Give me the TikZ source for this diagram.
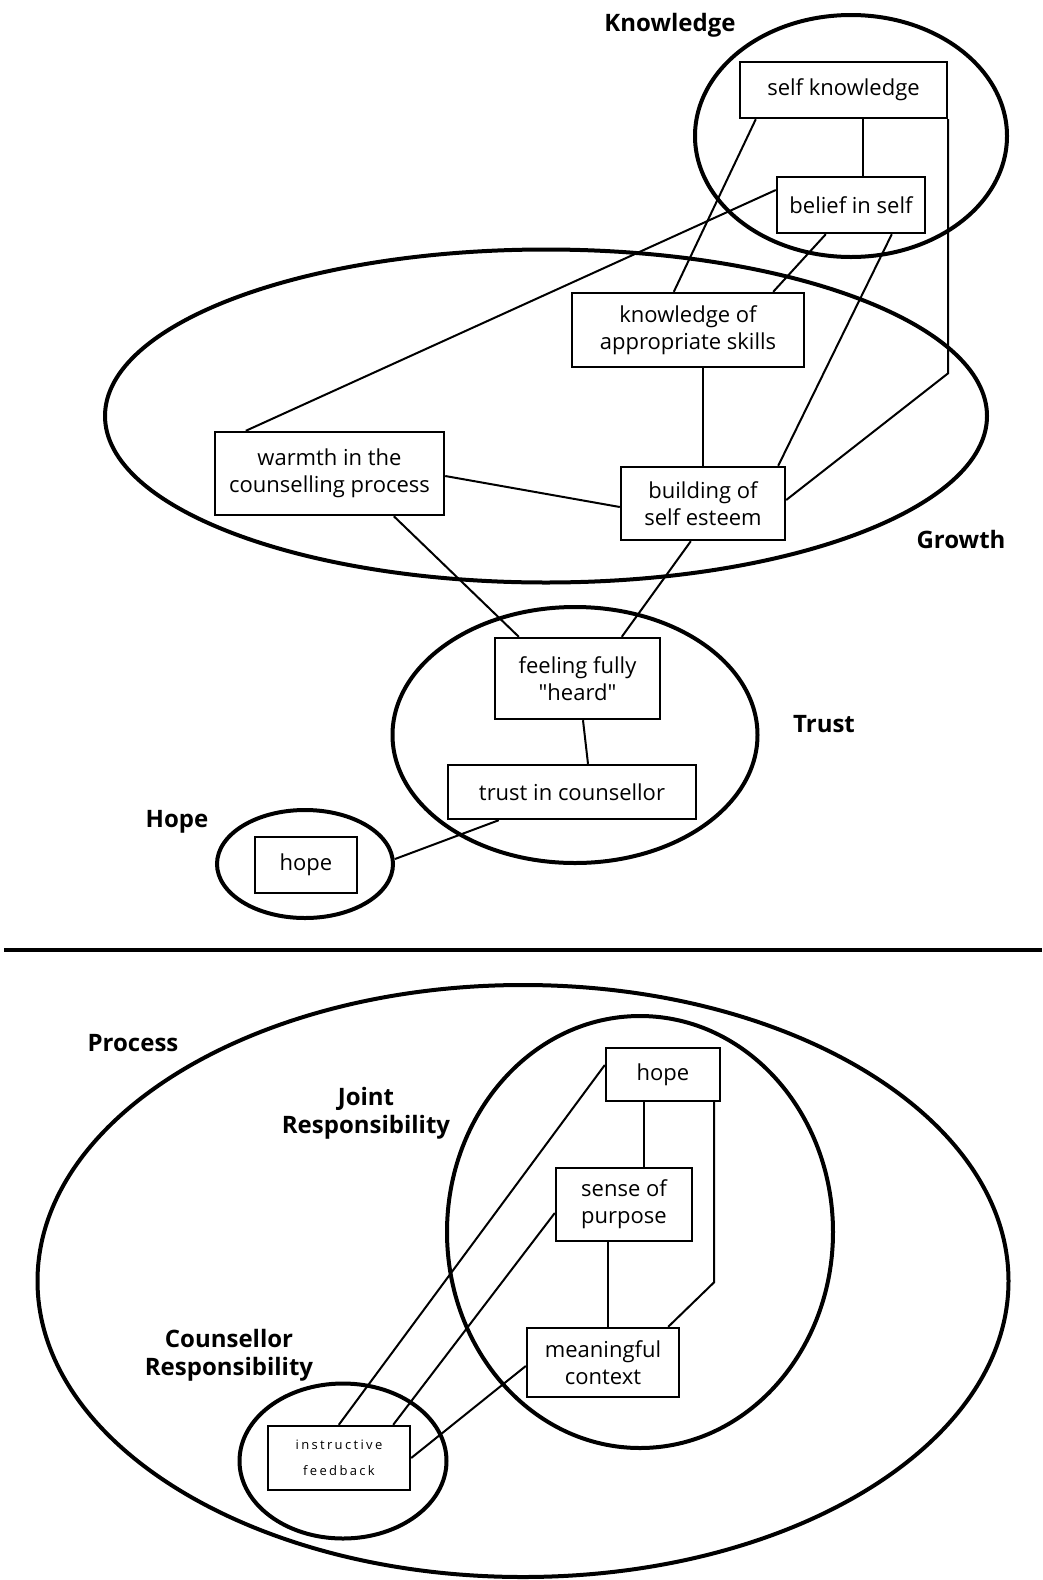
\documentclass[tikz,border=0pt]{standalone}
\usepackage{fontspec}
\setmainfont{Open Sans}[Ligatures=TeXOff]
\usetikzlibrary{shapes.geometric}
\begin{document}
\begin{tikzpicture}[x=1pt,y=-1pt,
  box/.style={draw, fill=white, line width=2.4pt, inner sep=0pt, align=center, font=\fontsize{22}{27}\selectfont},
  ell/.style={draw, ellipse, line width=4pt, inner sep=0pt},
  lbl/.style={font=\fontsize{24}{28}\selectfont\bfseries, align=center, inner sep=0pt},
  con/.style={line width=2pt}]
\useasboundingbox (0,0) rectangle (1042,1580);

% ---------- top diagram: enclosures ----------
\node[ell, minimum width=312pt, minimum height=242pt] (knowE) at (851,136) {};
\node[ell, minimum width=882pt, minimum height=333pt] (growE) at (546,416) {};
\node[ell, minimum width=365pt, minimum height=256pt] (trustE) at (575,735) {};
\node[ell, minimum width=176pt, minimum height=108pt] (hopeE) at (305,864) {};

\node[lbl] (knowL) at (670,25) {Knowledge};
\node[lbl] (growL) at (961,539) {Growth};
\node[lbl] (trustL) at (824,724) {Trust};
\node[lbl] (hopeL) at (177,822) {Hope};

% ---------- top diagram: boxes ----------
\node[box, minimum width=207pt, minimum height=56pt] (sk) at (843.5,90) {self knowledge};
\node[box, minimum width=148pt, minimum height=56pt] (bis) at (851,205) {belief in self};
\node[box, minimum width=232pt, minimum height=74pt] (kas) at (688,330) {knowledge of\\appropriate skills};
\node[box, minimum width=229pt, minimum height=83pt] (warm) at (329.5,473.5) {warmth in the\\counselling process};
\node[box, minimum width=164pt, minimum height=73pt] (bse) at (703,503.5) {building of\\self esteem};
\node[box, minimum width=165pt, minimum height=81pt] (ffh) at (577.5,678.5) {feeling fully\\"heard"};
\node[box, minimum width=248pt, minimum height=54pt] (tic) at (572,792) {trust in counsellor};
\node[box, minimum width=102pt, minimum height=56pt] (hopeA) at (306,865) {hope};

% ---------- top diagram: connectors ----------
\draw[con] ([xshift=17pt]sk.south west) -- ([xshift=103pt]kas.north west);
\draw[con] ([xshift=19.5pt]sk.south) -- ([xshift=12pt]bis.north);
\draw[con] (sk.south east) -- ++(0,254) -- ([yshift=3.5pt]bse.east);
\draw[con] ([yshift=15pt]bis.west) -- ([xshift=32pt]warm.north west);
\draw[con] ([xshift=50pt]bis.south west) -- ([xshift=-32pt]kas.north east);
\draw[con] ([xshift=116pt]bis.south west) -- ([xshift=-8pt]bse.north east);
\draw[con] ([xshift=15pt]kas.south) -- (bse.north);
\draw[con] ([yshift=-2.5pt]warm.east) -- ([yshift=-3.5pt]bse.west);
\draw[con] ([xshift=180pt]warm.south west) -- ([xshift=25pt]ffh.north west);
\draw[con] ([xshift=71pt]bse.south west) -- ([xshift=128pt]ffh.north west);
\draw[con] ([xshift=5.5pt]ffh.south) -- ([xshift=16pt]tic.north);
\draw[con] ([xshift=52pt]tic.south west) -- ([yshift=5pt]hopeE.east);

% ---------- divider ----------
\coordinate (divL) at (4,950);
\coordinate (divR) at (1042,950);
\draw[line width=4pt] (divL) -- (divR);

% ---------- bottom diagram: enclosures ----------
\node[ell, minimum width=971pt, minimum height=592pt] (procE) at (523,1281) {};
\node[ell, minimum width=386pt, minimum height=432pt] (jointE) at (640,1232) {};
\node[ell, minimum width=207pt, minimum height=155pt] (counsE) at (343,1461) {};

\node[lbl] (procL) at (133,1043) {Process};
\node[lbl] (jointL) at (366,1113) {Joint\\Responsibility};
\node[lbl] (counsL) at (229,1355) {Counsellor\\Responsibility};

% ---------- bottom diagram: boxes ----------
\node[box, minimum width=114pt, minimum height=53pt] (hopeB) at (663,1074.5) {hope};
\node[box, minimum width=136pt, minimum height=73pt] (sop) at (624,1204.5) {sense of\\purpose};
\node[box, minimum width=152pt, minimum height=69pt] (mc) at (603,1362.5) {meaningful\\context};
\node[box, minimum width=142pt, minimum height=64pt, font=\fontsize{13}{26}\selectfont\addfontfeatures{LetterSpace=18}] (ifb) at (339,1458) {instructive\\feedback};

% ---------- bottom diagram: connectors ----------
\draw[con] ([xshift=-19pt]hopeB.south) -- ([xshift=20pt]sop.north);
\draw[con] ([xshift=-16pt]sop.south) -- ([xshift=5pt]mc.north);
\draw[con] ([xshift=-7pt]hopeB.south east) -- ++(0,180) -- ([xshift=-12pt]mc.north east);
\draw[con] ([yshift=9.5pt]hopeB.west) -- ([xshift=72pt]ifb.north west);
\draw[con] ([yshift=-8.5pt]sop.west) -- ([xshift=-18pt]ifb.north east);
\draw[con] ([yshift=-3.5pt]mc.west) -- (ifb.east);
\end{tikzpicture}
\end{document}
